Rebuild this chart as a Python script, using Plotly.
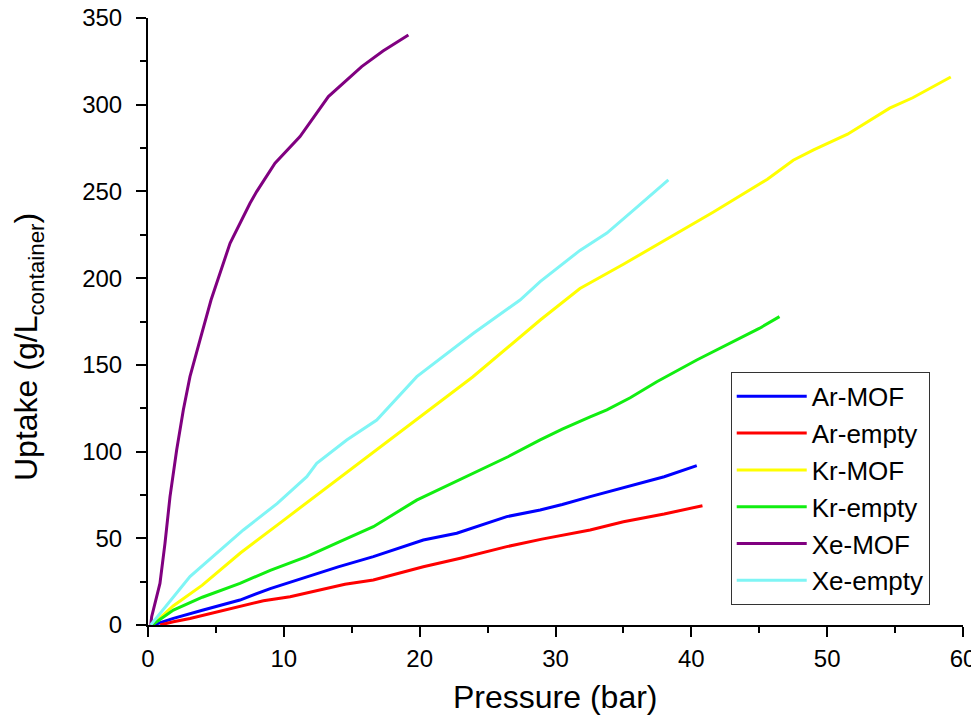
import plotly.graph_objects as go

# ---- data ----
ar_mof_x = [0.39, 1.87, 4, 6.77, 9, 11.68, 14, 16.59, 20.27, 22.73, 26.41, 28.87, 30.5, 32.55, 35.25, 38, 40.4]
ar_mof_y = [0, 3.8, 8.5, 14.4, 21, 27.9, 33.5, 39.4, 49, 52.9, 62.5, 66.3, 69.5, 74, 79.8, 85.5, 91.9]

ar_empty_x = [0.9, 1.87, 3.09, 5, 6.77, 8.5, 10.46, 12.5, 14.5, 16.59, 18.5, 20.27, 23, 26.41, 29, 32.55, 35, 38, 40.82]
ar_empty_y = [0, 1.9, 3.8, 7.5, 10.6, 14, 16.3, 20, 23.5, 26, 30, 33.6, 38.5, 45.2, 49.5, 54.8, 59.5, 64, 68.8]

kr_mof_x = [0.3, 1.85, 4, 6.8, 10, 13.2, 16.6, 19.8, 23.9, 28.9, 31.8, 35, 37.9, 41.6, 45.6, 47.5, 49, 51.5, 54.6, 56.3, 59.1]
kr_mof_y = [0, 11, 23, 41.5, 60.5, 79.5, 100, 119, 143, 176, 194, 208, 221, 238, 257, 268, 274, 283, 298, 304, 316]

kr_empty_x = [0.3, 1.87, 4, 6.77, 9, 11.68, 14, 16.59, 19.78, 23.96, 26.5, 28.87, 30.5, 32.55, 33.78, 35.5, 37.46, 40.4, 43, 45, 46.49]
kr_empty_y = [0, 8.6, 16, 24, 31.5, 39.4, 47.6, 56.7, 72, 87.8, 97, 106.7, 113, 120, 124, 131, 140.3, 152.8, 163, 171, 177.8]

xe_mof_x = [0.2, 0.27, 0.88, 1.25, 1.62, 2.11, 2.6, 3.09, 3.83, 4.64, 6.04, 7.51, 8.0, 9.35, 11.19, 13.28, 15.73, 17.3, 19.17]
xe_mof_y = [0, 4.8, 24, 47.1, 74, 100.9, 124, 143.2, 164.4, 187.4, 220.1, 243.2, 249.9, 266.3, 281.6, 304.7, 322, 331, 340.2]

xe_empty_x = [0.2, 3.09, 7.02, 9.5, 11.69, 12.42, 14.63, 16.84, 19.79, 23.96, 27.39, 28.87, 31.8, 33.78, 36, 38.31]
xe_empty_y = [0, 27.9, 54.8, 70, 85.5, 93.2, 106.7, 118.2, 143.2, 168.2, 187.4, 198, 216, 226, 241, 256.6]

series = [
    ("Ar-MOF", ar_mof_x, ar_mof_y, "#0000ff"),
    ("Ar-empty", ar_empty_x, ar_empty_y, "#ff0000"),
    ("Kr-MOF", kr_mof_x, kr_mof_y, "#ffff00"),
    ("Kr-empty", kr_empty_x, kr_empty_y, "#11ee11"),
    ("Xe-MOF", xe_mof_x, xe_mof_y, "#800080"),
    ("Xe-empty", xe_empty_x, xe_empty_y, "#7ff5f5"),
]

x_title = "Pressure (bar)"
y_title = "Uptake (g/L<sub>container</sub>)"

fig = go.Figure()
for name, xs, ys, col in series:
    fig.add_trace(go.Scatter(x=xs, y=ys, mode="lines", name=name,
                             line=dict(color=col, width=3)))

FONT = "Liberation Sans, Arial, sans-serif"

common_axis = dict(
    showline=True, linecolor="black", linewidth=2,
    ticks="outside", ticklen=10, tickwidth=2, tickcolor="black",
    showgrid=False, zeroline=False, automargin=False,
    tickfont=dict(size=24, family=FONT, color="black"),
    ticklabeloverflow="allow",
)

fig.update_layout(
    width=971, height=716,
    margin=dict(l=140, r=16, t=10, b=99, autoexpand=False),
    paper_bgcolor="white", plot_bgcolor="white",
    font=dict(family=FONT, color="black"),
    legend=dict(
        x=0.715, y=0.417, xanchor="left", yanchor="top",
        bordercolor="#333333", borderwidth=1, bgcolor="white",
        font=dict(size=26, family=FONT, color="black"),
        itemwidth=70, tracegroupgap=0,
    ),
    xaxis=dict(range=[0, 60], dtick=10, tick0=0, ticklabelstandoff=1,
               minor=dict(dtick=5, ticks="outside", ticklen=6, tickwidth=2, tickcolor="black"),
               **common_axis),
    yaxis=dict(range=[0, 350], dtick=50, tick0=0, ticklabelstandoff=9,
               minor=dict(dtick=25, ticks="outside", ticklen=6, tickwidth=2, tickcolor="black"),
               **common_axis),
    annotations=[
        dict(text=x_title, xref="paper", yref="paper", x=0.4994, y=0,
             xanchor="center", yanchor="middle", yshift=-72, showarrow=False,
             font=dict(size=32, family=FONT, color="black")),
        dict(text=y_title, xref="paper", yref="paper", x=0, y=0.458,
             xanchor="center", yanchor="middle", xshift=-119, textangle=-90,
             showarrow=False, font=dict(size=32, family=FONT, color="black")),
    ],
)

fig.write_html("out.html")
